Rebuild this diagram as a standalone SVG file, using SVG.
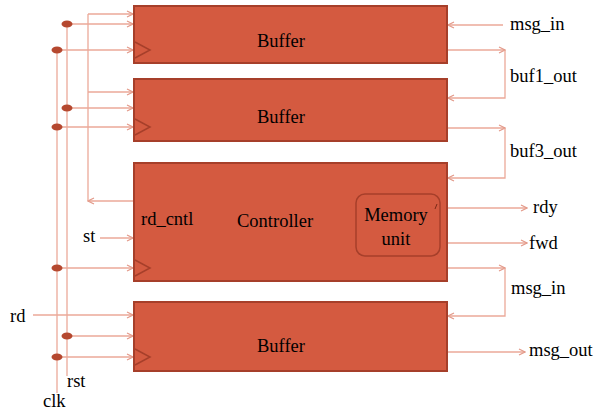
<svg xmlns="http://www.w3.org/2000/svg" width="595" height="412" viewBox="0 0 595 412">
<defs>
<marker id="ah" markerWidth="8" markerHeight="8" refX="7" refY="4" orient="auto" markerUnits="userSpaceOnUse">
<polyline points="1,1 7,4 1,7" fill="none" stroke="#E39A8A" stroke-width="1.2"/>
</marker>
</defs>
<style>
.box{fill:#D45A40;stroke:#A63F2A;stroke-width:2}
.clkt{fill:none;stroke:#A63F2A;stroke-width:1.5}
.w{fill:none;stroke:#EBA999;stroke-width:1.3}
.a{fill:none;stroke:#EBA999;stroke-width:1.3;marker-end:url(#ah)}
.dot{fill:#B5482F}
text{font-family:"Liberation Serif","Times New Roman",serif;font-size:18.5px;fill:#000}
.c{text-anchor:middle}
</style>
<rect width="595" height="412" fill="#fff"/>
<g id="connectors">
<line class="w" x1="57" y1="50" x2="57" y2="393"/>
<line class="a" x1="57" y1="50" x2="133" y2="50"/>
<line class="a" x1="57" y1="127" x2="133" y2="127"/>
<line class="a" x1="57" y1="268" x2="133" y2="268"/>
<line class="a" x1="57" y1="357" x2="133" y2="357"/>
<line class="w" x1="67" y1="24" x2="67" y2="376"/>
<line class="a" x1="67" y1="24" x2="133" y2="24"/>
<line class="a" x1="67" y1="108" x2="133" y2="108"/>
<line class="a" x1="67" y1="336" x2="133" y2="336"/>
<polyline class="a" points="133,201 88,201"/>
<polyline class="w" points="88,201 88,14"/>
<line class="a" x1="88" y1="14" x2="133" y2="14"/>
<line class="a" x1="88" y1="92" x2="133" y2="92"/>
<line class="a" x1="100" y1="238" x2="133" y2="238"/>
<line class="a" x1="33" y1="315" x2="133" y2="315"/>
<line class="a" x1="503" y1="25" x2="448" y2="25"/>
<polyline class="a" points="448,50 505,50"/>
<polyline class="a" points="505,50 505,98 448,98"/>
<polyline class="a" points="448,128 505,128"/>
<polyline class="a" points="505,128 505,178 448,178"/>
<line class="a" x1="448" y1="208" x2="527" y2="208"/>
<line class="a" x1="448" y1="243" x2="527" y2="243"/>
<polyline class="a" points="448,268 505,268"/>
<polyline class="a" points="505,268 505,316 448,316"/>
<line class="a" x1="448" y1="352" x2="525" y2="352"/>
</g>
<g id="dots">
<ellipse class="dot" cx="67" cy="24" rx="5.5" ry="3.5"/>
<ellipse class="dot" cx="57" cy="50" rx="5.5" ry="3.5"/>
<ellipse class="dot" cx="67" cy="108" rx="5.5" ry="3.5"/>
<ellipse class="dot" cx="57" cy="127" rx="5.5" ry="3.5"/>
<ellipse class="dot" cx="57" cy="268" rx="5.5" ry="3.5"/>
<ellipse class="dot" cx="67" cy="336" rx="5.5" ry="3.5"/>
<ellipse class="dot" cx="57" cy="357" rx="5.5" ry="3.5"/>
</g>
<g id="buffer1">
<rect class="box" x="134" y="6" width="313" height="57"/>
<polyline class="clkt" points="135,42 150,50 135,58"/>
<text class="c" x="281" y="47">Buffer</text>
</g>
<g id="buffer2">
<rect class="box" x="134" y="79" width="313" height="62"/>
<polyline class="clkt" points="135,119 150,127 135,135"/>
<text class="c" x="281" y="123">Buffer</text>
</g>
<g id="controller">
<rect class="box" x="134" y="163" width="313" height="118"/>
<polyline class="clkt" points="135,260 150,268 135,276"/>
<text x="141" y="225">rd_cntl</text>
<text x="237" y="227">Controller</text>
</g>
<g id="memory">
<rect x="356" y="194" width="84" height="62" rx="9" fill="#D45A40" stroke="#A63F2A" stroke-width="1.5"/>
<line x1="437" y1="204" x2="435" y2="209" stroke="#7A2A18" stroke-width="1"/>
<text class="c" x="396" y="221">Memory</text>
<text class="c" x="396" y="245">unit</text>
</g>
<g id="buffer4">
<rect class="box" x="134" y="302" width="313" height="69"/>
<polyline class="clkt" points="135,349 150,357 135,365"/>
<text class="c" x="281" y="352">Buffer</text>
</g>
<g id="labels">
<text x="510" y="30">msg_in</text>
<text x="510" y="82">buf1_out</text>
<text x="510" y="157">buf3_out</text>
<text x="533" y="213">rdy</text>
<text x="529" y="249">fwd</text>
<text x="511" y="294">msg_in</text>
<text x="529" y="356">msg_out</text>
<text x="83" y="242">st</text>
<text x="10" y="322">rd</text>
<text x="67" y="387">rst</text>
<text x="43" y="407">clk</text>
</g>
</svg>
